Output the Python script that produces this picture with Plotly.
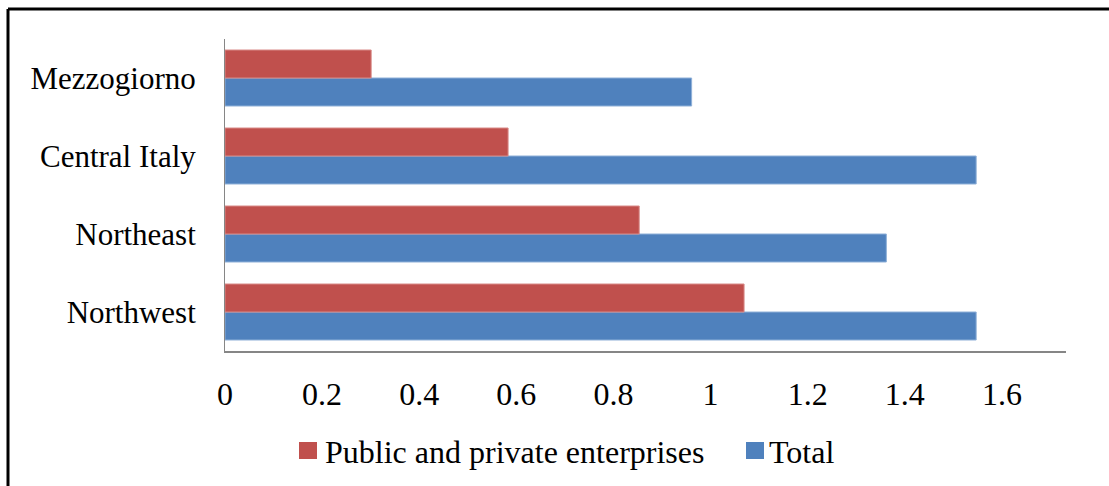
import plotly.graph_objects as go

# Regions, listed bottom to top as they appear on the category axis
regions = ["Northwest", "Northeast", "Central Italy", "Mezzogiorno"]
enterprises = [1.069, 0.853, 0.583, 0.301]
total = [1.547, 1.362, 1.547, 0.961]
tick_vals = [0, 0.2, 0.4, 0.6, 0.8, 1.0, 1.2, 1.4, 1.6]
tick_text = ["0", "0.2", "0.4", "0.6", "0.8", "1", "1.2", "1.4", "1.6"]
series_names = ["Public and private enterprises", "Total"]

RED = "#C0504D"
BLUE = "#4F81BD"
SERIF = "Liberation Serif, Times New Roman, serif"

fig = go.Figure()
# Total first so it sits below the enterprise bar within each group
fig.add_trace(go.Bar(
    y=regions, x=total, orientation="h", name=series_names[1],
    marker=dict(color=BLUE, line=dict(color="#8FB0D8", width=1)),
))
fig.add_trace(go.Bar(
    y=regions, x=enterprises, orientation="h", name=series_names[0],
    marker=dict(color=RED, line=dict(color="#D88A88", width=1)),
))

W, H = 1109, 486
L, R, T, B = 225, 43, 39, 135
pw, ph = W - L - R, H - T - B


def px_x(px):
    return (px - L) / pw


def px_y(py):
    return (H - B - py) / ph


# Legend drawn by hand: swatch squares plus text labels below the axis
legend_items = [(series_names[0], RED, 299, 323), (series_names[1], BLUE, 746, 767)]
shapes = [
    dict(type="line", xref="paper", yref="paper",
         x0=px_x(8), x1=px_x(1115), y0=px_y(9), y1=px_y(9),
         line=dict(color="black", width=3)),
    dict(type="line", xref="paper", yref="paper",
         x0=px_x(8), x1=px_x(8), y0=px_y(9), y1=px_y(495),
         line=dict(color="black", width=3)),
]
annotations = []
for name, color, sx, tx in legend_items:
    shapes.append(dict(type="rect", xref="paper", yref="paper",
                       x0=px_x(sx), x1=px_x(sx + 18), y0=px_y(442), y1=px_y(459),
                       fillcolor=color, line=dict(width=0)))
    annotations.append(dict(text=name, xref="paper", yref="paper",
                            x=px_x(tx), y=px_y(452), xanchor="left", yanchor="middle",
                            showarrow=False, font=dict(family=SERIF, size=32, color="black")))

fig.update_layout(
    width=W, height=H,
    margin=dict(l=L, r=R, t=T, b=B),
    paper_bgcolor="white", plot_bgcolor="white",
    barmode="group", bargap=0.282, bargroupgap=0,
    font=dict(family=SERIF, size=31, color="black"),
    showlegend=False,
    xaxis=dict(
        range=[0, 1.732], tickvals=tick_vals, ticktext=tick_text,
        showgrid=False, zeroline=False,
        showline=True, linecolor="#868686", linewidth=2,
        ticks="", ticklabelstandoff=14,
        tickfont=dict(family=SERIF, size=32),
    ),
    yaxis=dict(
        showgrid=False, zeroline=False,
        showline=True, linecolor="#868686", linewidth=1,
        ticks="", ticklabelstandoff=22,
        tickfont=dict(family=SERIF, size=31),
    ),
    shapes=shapes,
    annotations=annotations,
)

fig.write_html("out.html")
